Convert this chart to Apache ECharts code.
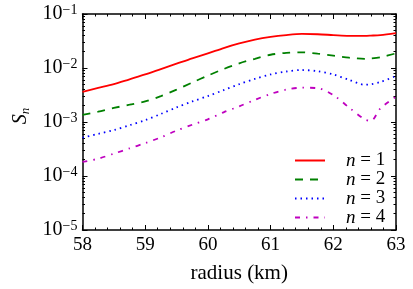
<!DOCTYPE html>
<html><head><meta charset="utf-8">
<script src="https://cdn.jsdelivr.net/npm/echarts@6/dist/echarts.min.js"></script>
<style>html,body{margin:0;padding:0;background:#fff}#c{width:413px;height:289px}</style>
</head><body><div id="c"></div>
<script>
const radius = [58,58.25,58.5,58.75,59,59.25,59.5,59.75,60,60.25,60.5,60.75,61,61.25,61.5,61.75,62,62.25,62.5,62.6,62.75,63];
const S1 = [3.63e-3,4.27e-3,5.01e-3,6.17e-3,7.59e-3,9.55e-3,0.0120,0.0151,0.0186,0.0234,0.0285,0.0335,0.0376,0.0407,0.0427,0.0422,0.0407,0.0394,0.0394,0.0398,0.0407,0.0442];
const S2 = [1.35e-3,1.55e-3,1.82e-3,2.09e-3,2.40e-3,3.02e-3,3.98e-3,5.37e-3,7.24e-3,9.55e-3,0.0122,0.0148,0.0176,0.0191,0.0195,0.0184,0.0170,0.0155,0.0148,0.0150,0.0158,0.0187];
const S3 = [5.13e-4,6.03e-4,7.08e-4,8.71e-4,1.08e-3,1.41e-3,1.86e-3,2.40e-3,3.02e-3,3.89e-3,5.01e-3,6.31e-3,7.59e-3,8.61e-3,9.18e-3,8.71e-3,7.59e-3,6.03e-3,4.90e-3,5.01e-3,5.50e-3,7.11e-3];
const S4 = [1.82e-4,2.09e-4,2.60e-4,3.24e-4,4.07e-4,5.19e-4,6.92e-4,8.91e-4,1.12e-3,1.51e-3,1.95e-3,2.57e-3,3.31e-3,3.98e-3,4.32e-3,4.22e-3,3.16e-3,1.86e-3,1.12e-3,1.05e-3,1.78e-3,2.95e-3];
const seriesNames = ['n = 1','n = 2','n = 3','n = 4'];
const yMajor = [1e-5,1e-4,1e-3,1e-2,1e-1];
const yMinor = [2e-5,3e-5,4e-5,5e-5,6e-5,7e-5,8e-5,9e-5,2e-4,3e-4,4e-4,5e-4,6e-4,7e-4,8e-4,9e-4,2e-3,3e-3,4e-3,5e-3,6e-3,7e-3,8e-3,9e-3,2e-2,3e-2,4e-2,5e-2,6e-2,7e-2,8e-2,9e-2];

const F = 'Liberation Serif';
const chart = echarts.init(document.getElementById('c'), null, {renderer:'canvas'});
const axLine = {show:true, lineStyle:{color:'#000', width:1.5}};
function xAx(pos, labels){
  return {type:'value', min:58, max:63, interval:1, position:pos,
    axisLine:axLine,
    axisTick:{show:true, inside:true, length:5, lineStyle:{color:'#000', width:1}},
    minorTick:{show:true, splitNumber:5, length:2.5, lineStyle:{color:'#000', width:1}},
    splitLine:{show:false}, minorSplitLine:{show:false},
    axisLabel:{show:labels, fontFamily:F, fontSize:19, color:'#000', margin:6},
    name: labels ? 'radius (km)' : '', nameLocation:'middle', nameGap:33,
    nameTextStyle:{fontFamily:F, fontSize:21, color:'#000'}};
}
function yAx(pos, major, labels){
  const o = {type:'log', logBase:10, min:1e-5, max:1e-1, position:pos,
    axisLine: major ? axLine : {show:false},
    axisTick:{show:true, inside:true, length: major?5:2.5, lineStyle:{color:'#000', width:1}, customValues: major ? yMajor : yMinor},
    splitLine:{show:false},
    axisLabel:{show:false}};
  if (labels){
    o.axisLabel = {show:true, customValues:yMajor, margin:5,
      formatter: v => '{b|10}{s|' + String(Math.round(Math.log10(v))).replace('-', '\u2212') + '}',
      rich:{b:{fontFamily:F, fontSize:20, color:'#000', lineHeight:22},
            s:{fontFamily:F, fontSize:14, color:'#000', verticalAlign:'top', lineHeight:14}}};
    o.name = '{i|S}{sub|n}';
    o.nameLocation = 'middle'; o.nameGap = 49; o.nameRotate = 90;
    o.nameTextStyle = {padding:[0,0,0,12], rich:{i:{fontFamily:F, fontStyle:'italic', fontSize:20, color:'#000', lineHeight:22},
                             sub:{fontFamily:F, fontStyle:'italic', fontSize:13, color:'#000', verticalAlign:'bottom', lineHeight:14}}};
  }
  return o;
}
const colors = ['#ff0000','#008000','#0000ff','#bf00bf'];
const dashes = ['solid',[8,7],[1.5,4],[5,6,1.5,6]];
const datas = [S1,S2,S3,S4];
chart.setOption({
  animation:false,
  grid:{left:82.5, right:17, top:14, bottom:59, containLabel:false},
  xAxis:[xAx('bottom', true), xAx('top', false)],
  yAxis:[yAx('left', true, true), yAx('left', false, false), yAx('right', true, false), yAx('right', false, false)],
  legend:{orient:'vertical', left:294, top:151, padding:0, itemWidth:30, itemHeight:14, itemGap:0,
    data: seriesNames,
    itemStyle:{opacity:0},
    formatter: n => '{i|n} = ' + n.slice(-1),
    textStyle:{fontFamily:F, fontSize:19, color:'#000', lineHeight:14, padding:[0,0,0,16],
      rich:{i:{fontFamily:F, fontStyle:'italic', fontSize:19, color:'#000', lineHeight:14}}}},
  series: datas.map((d,i)=>({
    name: seriesNames[i], type:'line', xAxisIndex:0, yAxisIndex:0,
    data: radius.map((r,j)=>[r, d[j]]),
    smooth:0.3, symbol:'none', showSymbol:false,
    lineStyle:{color:colors[i], width:1.8, type:dashes[i]},
    itemStyle:{color:colors[i]}
  }))
});
</script></body></html>
